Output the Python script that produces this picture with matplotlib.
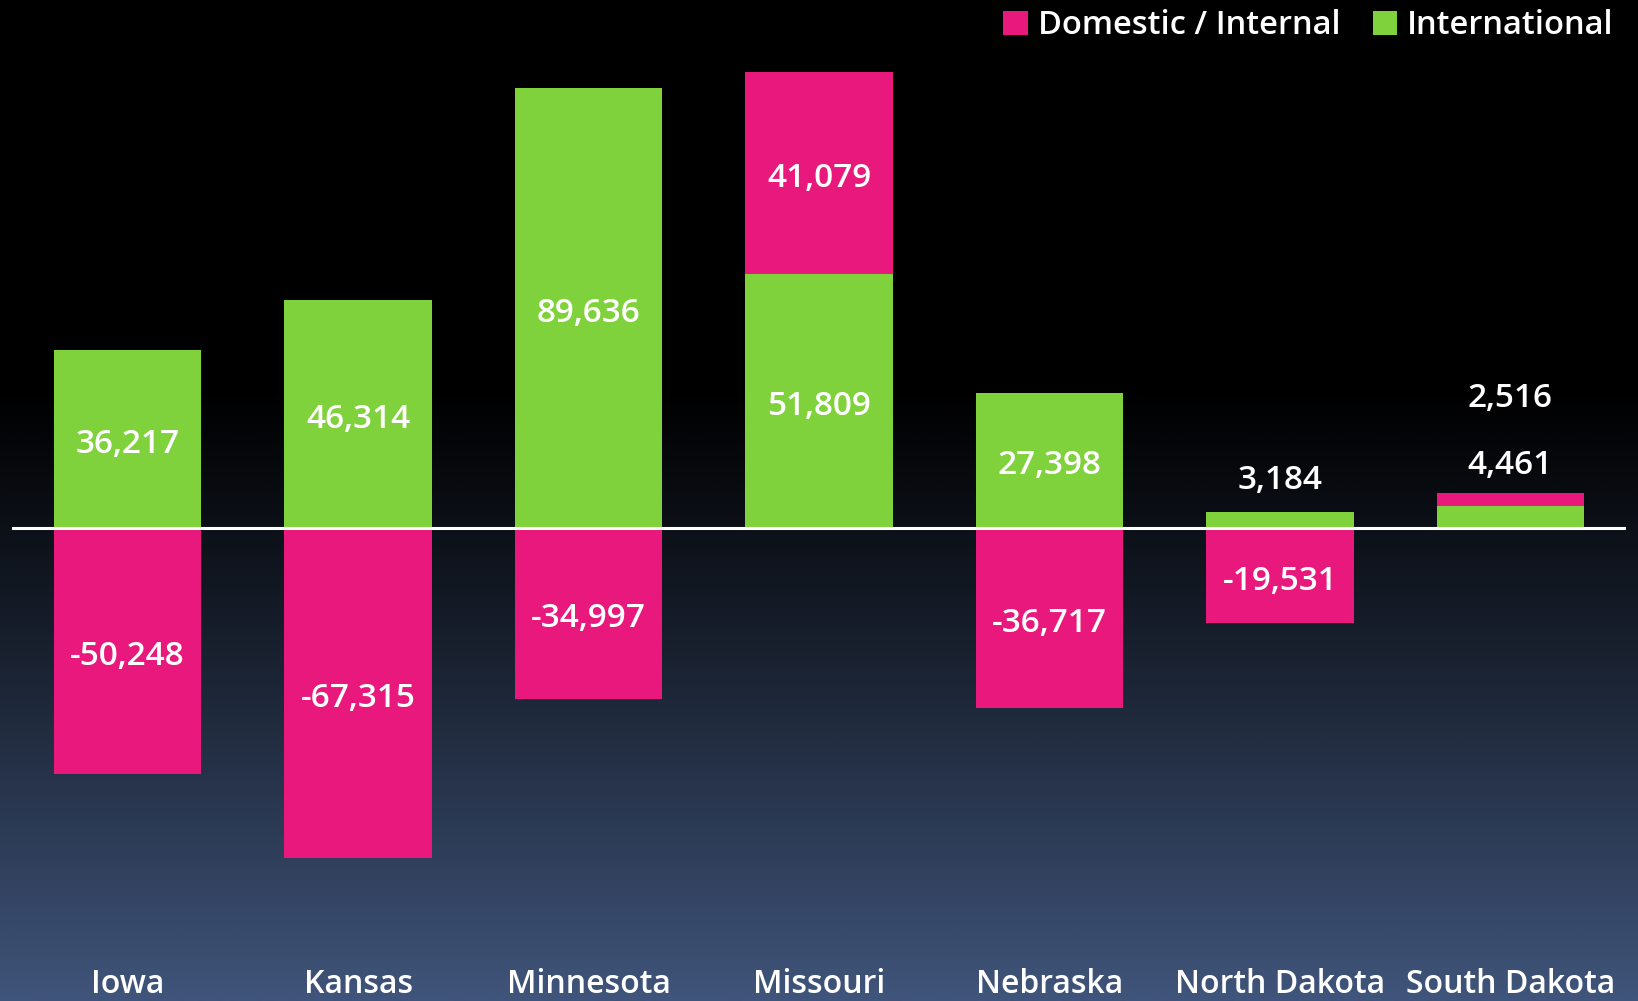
import numpy as np
import matplotlib
matplotlib.use('Agg')
import matplotlib.pyplot as plt
from matplotlib.colors import LinearSegmentedColormap

states = ['Iowa', 'Kansas', 'Minnesota', 'Missouri', 'Nebraska', 'North Dakota', 'South Dakota']
international = [36217, 46314, 89636, 51809, 27398, 3184, 4461]
domestic = [-50248, -67315, -34997, 41079, -36717, -19531, 2516]

PINK = '#E8187C'
GREEN = '#80D23C'

plt.rcParams['font.family'] = ['Open Sans', 'DejaVu Sans']

fig = plt.figure(figsize=(16.38, 10.01), dpi=100)

# background gradient, black at top to slate blue at bottom
bg = fig.add_axes([0, 0, 1, 1], zorder=-10)
t = np.linspace(0, 1, 500)
t = np.clip((t - 0.38) / 0.62, 0, 1) ** 1.15
bg.imshow(t[:, None], aspect='auto', cmap=LinearSegmentedColormap.from_list('bg', ['#000000', '#40557B']),
          extent=[0, 1, 1, 0], vmin=0, vmax=1)
bg.axis('off')

ax = fig.add_axes([0.0076, 0.041, 0.9848, 0.959])
ax.patch.set_alpha(0)
x = np.arange(len(states))
w = 0.64

ax.bar(x, international, w, color=GREEN, zorder=2, label='International')
# domestic stacks on top of international when positive
dom_bottom = [i if d > 0 else 0 for i, d in zip(international, domestic)]
ax.bar(x, domestic, w, bottom=dom_bottom, color=PINK, zorder=2, label='Domestic / Internal')

ax.axhline(0, color='white', lw=2.2, zorder=3)
ax.set_xlim(-0.5, 6.5)
ax.set_ylim(-88170, 107590)

lab_kw = dict(color='white', fontsize=24, fontweight='semibold', ha='center', va='center',
              textcoords='offset points', zorder=4)
for xi, iv, dv, b in zip(x, international, domestic, dom_bottom):
    if iv > 15000:
        ax.annotate(f'{iv:,}', (xi, iv / 2), xytext=(0, -4), **lab_kw)
        if abs(dv) > 15000:
            ax.annotate(f'{dv:,}', (xi, b + dv / 2), xytext=(0, -4), **lab_kw)
    else:
        top = iv + max(dv, 0)
        if dv > 0:
            ax.annotate(f'{iv:,}', (xi, top), xytext=(0, 20), **lab_kw)
            ax.annotate(f'{dv:,}', (xi, top), xytext=(0, 68), **lab_kw)
        else:
            ax.annotate(f'{iv:,}', (xi, top), xytext=(0, 23), **lab_kw)
            ax.annotate(f'{dv:,}', (xi, dv / 2), xytext=(0, -4), **lab_kw)

ax.set_xticks(x)
ax.set_xticklabels(states, color='white', fontsize=23, fontweight='semibold')
ax.tick_params(axis='x', length=0, pad=6)
ax.set_yticks([])
for s in ax.spines.values():
    s.set_visible(False)

h, l = ax.get_legend_handles_labels()
leg = fig.legend(h[::-1], l[::-1], loc='upper right', bbox_to_anchor=(1.003, 1.02), ncol=2, frameon=False,
                 fontsize=23.5, handlelength=0.75, handleheight=0.75, handletextpad=0.3, columnspacing=1.0)
for txt in leg.get_texts():
    txt.set_color('white')
    txt.set_fontweight('semibold')

fig.savefig('out.png', dpi=100, facecolor='black')
